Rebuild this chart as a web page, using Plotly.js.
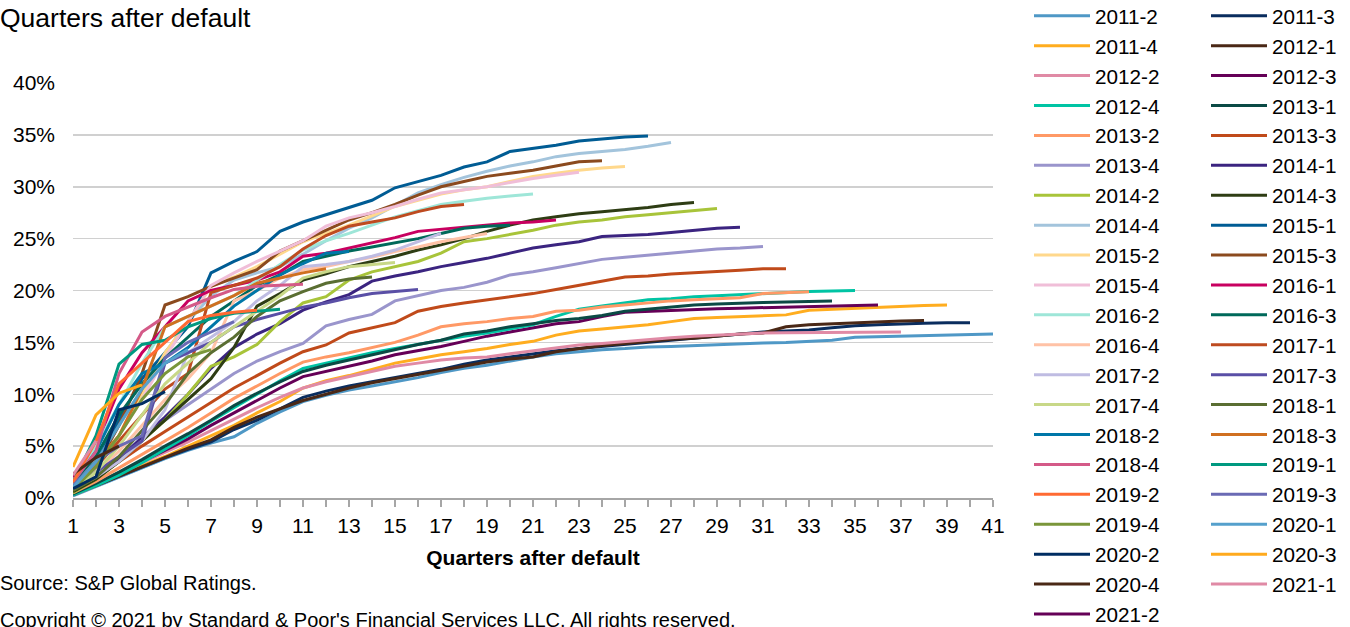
<!DOCTYPE html>
<html>
<head>
<meta charset="utf-8">
<script src="https://cdn.plot.ly/plotly-3.0.1.min.js"></script>
<style>
  html, body { margin: 0; padding: 0; background: #ffffff; }
  #chart { width: 1350px; height: 627px; }
</style>
</head>
<body>
<div id="chart"></div>
<script>
// ---------- DATA ----------
const quarters = [1,2,3,4,5,6,7,8,9,10,11,12,13,14,15,16,17,18,19,20,21,22,23,24,25,26,27,28,29,30,31,32,33,34,35,36,37,38,39,40,41];
const xTickLabels = ['1','','3','','5','','7','','9','','11','','13','','15','','17','','19','','21','','23','','25','','27','','29','','31','','33','','35','','37','','39','','41'];
const yTickValues = [0,5,10,15,20,25,30,35,40];
const yTickLabels = ['0%','5%','10%','15%','20%','25%','30%','35%','40%'];

const cohorts = ['2011-2','2011-3','2011-4','2012-1','2012-2','2012-3','2012-4','2013-1','2013-2','2013-3',
  '2013-4','2014-1','2014-2','2014-3','2014-4','2015-1','2015-2','2015-3','2015-4','2016-1',
  '2016-2','2016-3','2016-4','2017-1','2017-2','2017-3','2017-4','2018-1','2018-2','2018-3',
  '2018-4','2019-1','2019-2','2019-3','2019-4','2020-1','2020-2','2020-3','2020-4','2021-1','2021-2'];

const colors = ['#4f98c6','#0a2d5e','#ffad1f','#4a2816','#e08aa5','#650057','#00c4a4','#0b4a45','#ff9966','#c04a1a',
  '#9a95cc','#3b2480','#a8c43a','#2e3d14','#a3c4dc','#005c94','#ffd88c','#8b4a1e','#f0bed8','#c80060',
  '#9ee6d8','#00695a','#ffc2a6','#be4b20','#bfbce2','#5a4fa6','#c8d888','#5a6e32','#0077a8','#d07020',
  '#d45a88','#009980','#ff6a33','#6a6ab4','#7a963a','#55a0cc','#002d62','#ffaa1d','#4a2816','#e08aa5','#650057'];

// cumulative default rate (%) by quarters after default
const s2011_2 = [0.2,1.1,2.0,2.9,3.8,4.6,5.3,5.9,7.2,8.3,9.3,9.9,10.4,10.8,11.2,11.6,12.1,12.5,12.8,13.2,13.6,13.9,14.1,14.3,14.4,14.55,14.6,14.7,14.8,14.9,14.95,15.0,15.1,15.2,15.5,15.55,15.6,15.65,15.7,15.75,15.8];
const s2011_3 = [0.3,1.2,2.1,3.0,3.9,4.7,5.4,6.6,7.5,8.6,9.7,10.3,10.8,11.2,11.6,12.0,12.4,12.9,13.3,13.6,13.9,14.2,14.4,14.6,14.8,15.0,15.2,15.4,15.6,15.8,16.0,16.1,16.2,16.4,16.6,16.7,16.8,16.85,16.9,16.9];
const s2011_4 = [0.3,1.2,2.2,3.1,4.0,5.0,6.0,7.0,8.2,9.3,10.6,11.3,11.8,12.4,13.0,13.4,13.8,14.1,14.4,14.8,15.1,15.7,16.1,16.3,16.5,16.7,17.0,17.3,17.4,17.5,17.6,17.65,18.1,18.2,18.3,18.4,18.45,18.55,18.6];
const s2012_1 = [0.4,1.2,2.1,3.0,3.9,4.8,5.6,6.8,7.8,8.6,9.4,10.0,10.6,11.1,11.5,11.9,12.3,12.7,13.1,13.4,13.6,14.1,14.4,14.7,14.9,15.1,15.3,15.4,15.6,15.8,15.9,16.5,16.7,16.8,16.9,17.0,17.05,17.1];
const s2012_2 = [0.5,1.4,2.4,3.4,4.4,5.4,6.5,7.6,8.7,9.7,10.6,11.2,11.7,12.2,12.7,13.0,13.3,13.5,13.6,13.9,14.2,14.5,14.75,14.9,15.1,15.3,15.45,15.6,15.7,15.8,15.9,15.92,15.94,15.96,15.98,16.0,16.0];
const s2012_3 = [0.3,1.3,2.4,3.5,4.6,5.7,7.0,8.2,9.4,10.6,11.7,12.2,12.7,13.2,13.8,14.2,14.6,15.1,15.6,16.0,16.4,16.8,17.0,17.5,17.9,18.0,18.1,18.2,18.25,18.3,18.35,18.4,18.5,18.55,18.6,18.6];
const s2012_4 = [0.3,1.2,2.2,3.4,4.7,6.0,7.4,8.7,10.0,11.3,12.5,13.0,13.5,14.0,14.4,14.8,15.2,15.6,15.9,16.3,16.7,17.5,18.2,18.5,18.8,19.1,19.2,19.4,19.5,19.6,19.75,19.8,19.9,19.95,20.0];
const s2013_1 = [0.4,1.4,2.5,3.7,5.0,6.2,7.5,8.9,10.1,11.2,12.2,12.8,13.3,13.8,14.3,14.8,15.2,15.8,16.1,16.5,16.8,17.1,17.3,17.6,18.0,18.2,18.4,18.6,18.7,18.8,18.85,18.9,18.95,19.0];
const s2013_2 = [0.5,1.6,2.9,4.2,5.5,6.8,8.2,9.6,10.8,12.0,13.1,13.6,14.0,14.5,15.0,15.7,16.5,16.8,17.0,17.3,17.5,18.0,18.1,18.4,18.6,18.8,19.0,19.1,19.2,19.3,19.7,19.8,19.87];
const s2013_3 = [0.6,2.0,3.5,5.0,6.4,7.8,9.2,10.6,11.8,13.0,14.1,14.75,15.9,16.4,16.9,18.0,18.45,18.8,19.1,19.4,19.7,20.1,20.5,20.9,21.3,21.4,21.6,21.7,21.8,21.95,22.1,22.1];
const s2013_4 = [0.6,2.0,3.8,5.9,7.5,9.0,10.5,12.0,13.2,14.1,14.9,16.6,17.2,17.7,19.0,19.5,20.0,20.3,20.8,21.5,21.8,22.2,22.6,23.0,23.2,23.4,23.6,23.75,24.0,24.1,24.25];
const s2014_1 = [0.6,2.0,3.8,5.8,7.8,10.0,12.5,14.5,15.8,16.8,18.1,18.9,19.6,20.9,21.4,21.8,22.3,22.7,23.1,23.6,24.1,24.4,24.7,25.2,25.3,25.4,25.6,25.8,26.0,26.1];
const s2014_2 = [0.5,1.8,3.5,5.5,7.5,10.0,12.7,13.6,14.8,17.0,18.8,19.4,21.0,21.8,22.3,22.8,23.6,24.7,25.0,25.4,25.8,26.3,26.6,26.8,27.1,27.3,27.5,27.7,27.9];
const s2014_3 = [0.6,1.8,3.5,5.5,7.5,9.5,11.5,14.5,18.5,19.7,21.0,21.6,22.3,22.8,23.3,23.9,24.4,25.0,25.7,26.3,26.8,27.1,27.4,27.6,27.8,28.0,28.3,28.47];
const s2014_4 = [0.8,3.0,7.0,10.5,14.0,17.0,19.5,21.0,21.7,22.3,23.5,24.8,26.0,27.0,28.2,29.4,30.2,30.9,31.5,32.0,32.4,32.9,33.2,33.4,33.6,33.9,34.27];
const s2015_1 = [1.0,3.5,7.5,11.5,14.0,16.5,21.7,22.8,23.75,25.7,26.6,27.3,28.0,28.7,29.9,30.5,31.1,31.9,32.4,33.4,33.7,34.0,34.4,34.6,34.8,34.9];
const s2015_2 = [1.0,3.0,6.0,10.0,14.0,17.0,20.4,21.3,22.3,23.5,24.7,25.5,26.3,27.2,28.1,28.7,29.3,29.7,30.0,30.5,31.0,31.3,31.6,31.8,31.95];
const s2015_3 = [1.0,3.0,7.0,12.0,18.6,19.4,20.4,21.2,22.0,23.8,24.8,25.8,26.8,27.5,28.3,29.2,30.0,30.5,31.0,31.3,31.6,32.0,32.4,32.5];
const s2015_4 = [1.0,3.0,6.0,9.5,13.5,17.0,20.5,21.7,22.8,23.8,24.8,26.2,27.0,27.5,28.1,28.8,29.4,29.7,30.0,30.4,30.8,31.1,31.4];
const s2016_1 = [2.0,5.0,10.5,14.0,16.5,19.0,20.0,20.5,21.0,21.8,23.3,23.6,24.1,24.6,25.1,25.7,25.9,26.1,26.3,26.5,26.6,26.8];
const s2016_2 = [1.5,5.0,9.0,13.0,16.5,17.5,18.5,19.5,21.0,22.5,23.9,24.8,25.5,26.3,27.1,27.7,28.3,28.6,28.9,29.1,29.3];
const s2016_3 = [1.5,4.0,8.0,11.0,13.5,15.5,17.5,19.0,20.5,21.5,22.8,23.3,23.8,24.2,24.6,25.0,25.5,26.0,26.2,26.3];
const s2016_4 = [0.8,2.5,4.5,7.0,9.5,11.5,14.0,19.0,20.0,21.2,22.0,22.3,22.8,23.2,23.75,24.2,24.7,25.1,25.5];
const s2017_1 = [1.0,3.0,5.5,8.0,10.5,12.0,19.8,20.5,21.2,22.3,24.0,25.3,26.2,26.6,27.0,27.6,28.1,28.3];
const s2017_2 = [0.8,2.0,3.5,5.5,8.5,14.0,15.5,17.0,19.0,20.5,22.3,22.5,22.8,23.3,23.9,24.7,25.5];
const s2017_3 = [1.0,2.5,4.0,5.5,13.0,14.0,15.0,16.5,17.2,17.8,18.4,18.8,19.3,19.7,19.9,20.1];
const s2017_4 = [0.8,2.5,5.0,8.0,11.0,13.0,15.0,16.5,18.0,19.5,21.2,21.8,22.3,22.5,22.7];
const s2018_1 = [0.7,2.0,4.0,6.5,9.0,12.0,14.0,15.5,17.5,19.0,19.9,20.7,21.1,21.3];
const s2018_2 = [1.5,4.5,9.0,12.0,13.0,14.5,16.5,18.5,20.0,21.5,22.6,23.6,23.75];
const s2018_3 = [1.0,3.5,6.0,10.5,16.5,17.5,18.5,19.5,20.7,21.2,21.7,22.1];
const s2018_4 = [1.5,4.5,12.0,16.0,17.5,18.4,19.3,20.1,20.4,20.5,20.6];
const s2019_1 = [1.5,6.0,12.9,14.8,15.2,16.5,17.3,17.8,18.0,18.2];
const s2019_2 = [1.5,5.5,11.0,13.0,15.0,17.0,17.6,17.9,18.1];
const s2019_3 = [1.2,3.5,5.0,6.0,13.5,15.0,16.0,17.0];
const s2019_4 = [0.8,3.0,6.0,9.5,12.0,13.6,14.3];
const s2020_1 = [1.0,3.5,7.0,10.5,13.0,14.3];
const s2020_2 = [0.9,2.05,8.5,9.1,10.25];
const s2020_3 = [3.0,8.0,10.1,10.9];
const s2020_4 = [2.3,3.9,5.0];
const s2021_1 = [2.2,5.5];
const s2021_2 = [1.5];

const seriesValues = [s2011_2,s2011_3,s2011_4,s2012_1,s2012_2,s2012_3,s2012_4,s2013_1,s2013_2,s2013_3,
  s2013_4,s2014_1,s2014_2,s2014_3,s2014_4,s2015_1,s2015_2,s2015_3,s2015_4,s2016_1,
  s2016_2,s2016_3,s2016_4,s2017_1,s2017_2,s2017_3,s2017_4,s2018_1,s2018_2,s2018_3,
  s2018_4,s2019_1,s2019_2,s2019_3,s2019_4,s2020_1,s2020_2,s2020_3,s2020_4,s2021_1,s2021_2];

// ---------- CHART ----------
const FONT = '"Liberation Sans", Arial, Helvetica, sans-serif';

const traces = seriesValues.map((vals, i) => ({
  type: 'scatter',
  mode: 'lines',
  name: cohorts[i],
  x: quarters.slice(0, vals.length),
  y: vals,
  line: { color: colors[i], width: 3 },
  legend: (i % 2 === 0) ? 'legend' : 'legend2',
  hoverinfo: 'skip'
}));

// geometry helpers (pixel -> paper)
const M = { l: 73, r: 357, t: 83, b: 129, autoexpand: false };
const PW = 1350 - M.l - M.r, PH = 627 - M.t - M.b;
const px = X => (X - M.l) / PW;
const py = Y => (627 - M.b - Y) / PH;

const legendCommon = {
  xanchor: 'left', yanchor: 'top',
  font: { family: FONT, size: 20.7, color: '#000' },
  bgcolor: 'rgba(0,0,0,0)', borderwidth: 0,
  itemwidth: 56, tracegroupgap: 0, orientation: 'v',
  maxheight: 2000,
  itemclick: false, itemdoubleclick: false
};

const layout = {
  width: 1350, height: 627,
  margin: M,
  paper_bgcolor: '#ffffff', plot_bgcolor: '#ffffff',
  font: { family: FONT, color: '#000' },
  showlegend: true,
  title: {
    text: 'Quarters after default',
    xref: 'container', x: 0, xanchor: 'left',
    yref: 'container', y: 1 - 18 / 627, yanchor: 'middle',
    font: { family: FONT, size: 26.5, color: '#000' }
  },
  xaxis: {
    range: [1, 41],
    tickmode: 'array', tickvals: quarters, ticktext: xTickLabels,
    ticks: 'outside', ticklen: 7, tickwidth: 1.5, tickcolor: '#a6a6a6',
    showline: true, linecolor: '#a6a6a6', linewidth: 1.5,
    showgrid: false, zeroline: false,
    tickfont: { family: FONT, size: 21, color: '#000' },
    ticklabelstandoff: 1,
    title: { text: 'Quarters after default', standoff: 14,
             font: { family: FONT, size: 21, color: '#000', weight: 'bold' } },
    fixedrange: true
  },
  yaxis: {
    range: [0, 40],
    tickmode: 'array', tickvals: yTickValues, ticktext: yTickLabels,
    showgrid: true, gridcolor: '#d0d0d0', gridwidth: 1.5,
    zeroline: false, showline: false, ticks: '',
    tickfont: { family: FONT, size: 21, color: '#000' },
    ticklabelstandoff: 17,
    fixedrange: true
  },
  legend: Object.assign({}, legendCommon, { x: px(1029), y: py(-4.2) }),
  legend2: Object.assign({}, legendCommon, { x: px(1206), y: py(-4.2) }),
  annotations: [
    { text: 'Source: S&P Global Ratings.', xref: 'paper', yref: 'paper',
      x: px(-2), y: py(583), xanchor: 'left', yanchor: 'middle', showarrow: false,
      font: { family: FONT, size: 20, color: '#000' } },
    { text: 'Copyright © 2021 by Standard & Poor\'s Financial Services LLC. All rights reserved.',
      xref: 'paper', yref: 'paper',
      x: px(-2), y: py(620), xanchor: 'left', yanchor: 'middle', showarrow: false,
      font: { family: FONT, size: 20, color: '#000' } }
  ],
  hovermode: false
};

Plotly.newPlot('chart', traces, layout, { staticPlot: true, displayModeBar: false });
</script>
</body>
</html>
